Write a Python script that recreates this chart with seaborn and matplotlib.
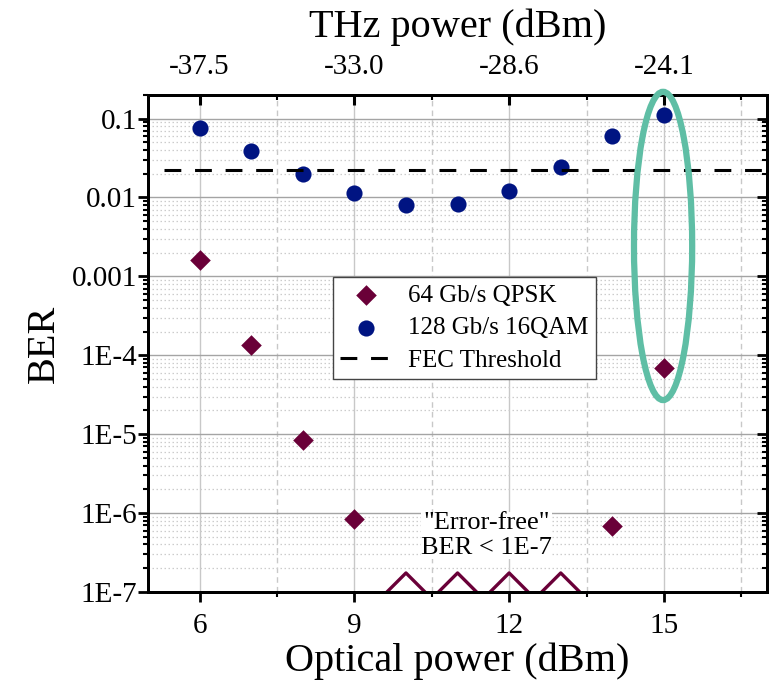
import numpy as np
import matplotlib
matplotlib.use("Agg")
import matplotlib.pyplot as plt
import seaborn as sns
from matplotlib.patches import Ellipse
from matplotlib.ticker import FixedLocator, NullFormatter

# data
opt_power = [6, 7, 8, 9, 10, 11, 12, 13, 14, 15]
qam_ber = [0.075, 0.039, 0.020, 0.0113, 0.0081, 0.0083, 0.012, 0.024, 0.060, 0.11]
qpsk_power = [6, 7, 8, 9, 14, 15]
qpsk_ber = [1.6e-3, 1.34e-4, 8.4e-6, 8.5e-7, 6.9e-7, 6.8e-5]
errfree_power = [10, 11, 12, 13]
errfree_ber = [1e-7, 1e-7, 1e-7, 1e-7]
fec = 0.0224

x_ticks = [6, 9, 12, 15]
x_minor = [7.5, 10.5, 13.5, 16.5]
thz_labels = ["-37.5", "-33.0", "-28.6", "-24.1"]
y_ticks = [1e-7, 1e-6, 1e-5, 1e-4, 1e-3, 1e-2, 1e-1]
y_labels = ["1E-7", "1E-6", "1E-5", "1E-4", "0.001", "0.01", "0.1"]

maroon = "#6a0038"
navy = "#001482"
green = "#5fbea5"

sns.set_style("ticks")
plt.rcParams["font.family"] = ["Liberation Serif", "DejaVu Serif"]
plt.rcParams["text.color"] = "black"
plt.rcParams["axes.labelcolor"] = "black"
plt.rcParams["xtick.color"] = "black"
plt.rcParams["ytick.color"] = "black"
plt.rcParams["axes.edgecolor"] = "black"
plt.rcParams["axes.linewidth"] = 2

fig = plt.figure(figsize=(7.69, 6.82), dpi=100)
ax = fig.add_axes([0.1925, 0.132, 0.805, 0.729])
ax.set_yscale("log")
ax.set_xlim(5, 17)
ax.set_ylim(1e-7, 0.2)
ax.set_axisbelow(True)

# grid
ax.set_xticks(x_ticks)
ax.xaxis.set_minor_locator(FixedLocator(x_minor))
ax.grid(which="major", axis="x", color="#c8c8c8", lw=1, ls="-")
ax.grid(which="minor", axis="x", color="#c8c8c8", lw=1, ls=(0, (4, 3)))
ax.grid(which="major", axis="y", color="#a4a4a4", lw=1, ls="-")
ax.grid(which="minor", axis="y", color="#cccccc", lw=0.9, ls=(0, (1.2, 2)))

# data
sns.scatterplot(x=qpsk_power, y=qpsk_ber, ax=ax, marker="D", s=110, color=maroon,
                edgecolor=maroon, linewidth=0, label="64 Gb/s QPSK", zorder=3)
sns.scatterplot(x=opt_power, y=qam_ber, ax=ax, marker="o", s=135, color=navy,
                edgecolor=navy, linewidth=0, label="128 Gb/s 16QAM", zorder=3)
ax.axhline(fec, xmin=0.026, color="black", lw=2.2, dashes=(5.5, 4.5),
           label="FEC Threshold", zorder=3)

tri = [(-1, -0.1), (0, 0.9), (1, -0.1)]
sns.scatterplot(x=errfree_power, y=errfree_ber, ax=ax, marker=tri, s=925,
                facecolor="none", edgecolor=maroon, linewidth=2.4,
                label="_nolegend_", zorder=3)

ax.text(11.56, 5.2e-7, "\"Error-free\"\nBER < 1E-7", ha="center", va="center",
        fontsize=19, linespacing=1.2,
        bbox=dict(facecolor="white", edgecolor="none", pad=0), zorder=2.5)

# axes styling
ax.set_yticks(y_ticks, labels=y_labels)
ax.set_xticks(x_ticks, labels=[str(v) for v in x_ticks])
ax.tick_params(axis="both", which="major", direction="out", length=7, width=2,
               labelsize=21)
ax.tick_params(axis="both", which="minor", direction="out", length=3.6, width=1.5)
ax.tick_params(axis="y", pad=1)
ax.tick_params(axis="x", pad=8)
ax.set_xlabel("Optical power (dBm)", fontsize=29, labelpad=3)
ax.set_ylabel("BER", fontsize=29, labelpad=6)

leg = ax.legend(loc="upper left", bbox_to_anchor=(0.298, 0.634), borderaxespad=0,
                fontsize=18, frameon=True, fancybox=False, framealpha=1,
                edgecolor="#444444", handlelength=2.1, handletextpad=0.6,
                labelspacing=0.4, borderpad=0.3)
leg.get_frame().set_linewidth(1)

# top axis: THz power
top = ax.twiny()
top.set_xlim(ax.get_xlim())
top.set_xticks(x_ticks, labels=thz_labels)
top.xaxis.set_minor_locator(FixedLocator(x_minor))
top.tick_params(which="major", direction="in", length=7, width=2.2, labelsize=21, pad=11)
top.tick_params(which="minor", direction="in", length=3.6, width=1.5)
top.set_xlabel("THz power (dBm)", fontsize=29, labelpad=12)
top.grid(False)

# right axis: ticks only
right = ax.twinx()
right.set_yscale("log")
right.set_ylim(ax.get_ylim())
right.set_yticks(y_ticks)
right.yaxis.set_major_formatter(NullFormatter())
right.yaxis.set_minor_formatter(NullFormatter())
right.tick_params(which="major", direction="in", length=7, width=2)
right.tick_params(which="minor", direction="in", length=3.6, width=1.5)
right.grid(False)

right.add_patch(Ellipse((0.832, 0.696), 0.094, 0.62, transform=right.transAxes,
                        fill=False, edgecolor=green, lw=4.5, clip_on=False, zorder=4))

fig.savefig("out.png", dpi=100)
